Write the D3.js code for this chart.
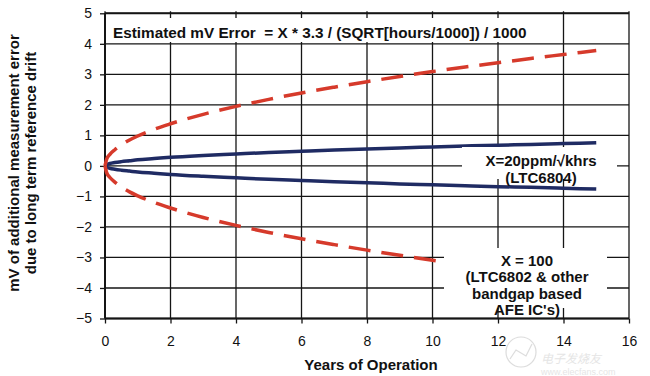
<!DOCTYPE html>
<html>
<head>
<meta charset="utf-8">
<script src="https://cdn.jsdelivr.net/npm/d3@7"></script>
<style>
  body { margin: 0; background: #fff; }
  svg { display: block; font-family: "Liberation Sans", Arial, sans-serif; }
  .tick text { font-size: 14px; fill: #111; }
  .lbl { font-weight: bold; font-size: 15px; fill: #111; }
</style>
</head>
<body>
<div id="chart"></div>
<script>
// years of operation sampled along the curves
const years = [0, 0.05, 0.15, 0.3, 0.5, 0.75, 1, 1.5, 2, 3, 4, 5, 6, 7, 8, 9, 10, 11, 12, 13, 14, 15];
// X = 100 (bandgap AFE), mV drift
const drift100 = [0, 0.22, 0.38, 0.53, 0.69, 0.85, 0.98, 1.2, 1.38, 1.69, 1.95, 2.18, 2.39, 2.58, 2.76, 2.93, 3.09, 3.24, 3.38, 3.52, 3.65, 3.78];
// X = 20ppm/sqrt(khrs) (LTC6804), blue solid curve
const drift20 = [0, 0.04, 0.08, 0.11, 0.14, 0.17, 0.2, 0.24, 0.28, 0.34, 0.39, 0.44, 0.48, 0.52, 0.55, 0.59, 0.62, 0.65, 0.68, 0.7, 0.73, 0.76];

const xTicks = [0, 2, 4, 6, 8, 10, 12, 14, 16];
const yTicks = [-5, -4, -3, -2, -1, 0, 1, 2, 3, 4, 5];

const width = 650;
const height = 376;

const svg = d3.select("#chart")
    .append("svg")
    .attr("width", width)
    .attr("height", height);

const x = d3.scaleLinear().domain([0, 16]).range([105, 629]);
const y = d3.scaleLinear().domain([-5, 5]).range([318.5, 13.3]);

// grid
const grid = svg.append("g").attr("stroke", "#151515").attr("stroke-width", 1.3);
grid.selectAll("line.h")
    .data(yTicks)
    .enter()
    .append("line")
    .attr("class", "h")
    .attr("x1", x(0)).attr("x2", x(16))
    .attr("y1", d => y(d)).attr("y2", d => y(d));
grid.selectAll("line.v")
    .data(xTicks)
    .enter()
    .append("line")
    .attr("class", "v")
    .attr("x1", d => x(d)).attr("x2", d => x(d))
    .attr("y1", y(5) - 2).attr("y2", y(-5));

// frame: left axis, top and bottom lines a bit heavier
const frame = svg.append("g").attr("stroke", "#151515").attr("stroke-width", 2);
frame.append("line").attr("x1", x(0)).attr("x2", x(0)).attr("y1", y(5)).attr("y2", y(-5));
frame.append("line").attr("x1", x(0)).attr("x2", x(16)).attr("y1", y(5)).attr("y2", y(5));
frame.append("line").attr("x1", x(0)).attr("x2", x(16)).attr("y1", y(-5)).attr("y2", y(-5));

// axes
const xAxis = svg.append("g")
    .attr("transform", `translate(0,${y(-5)})`)
    .call(d3.axisBottom(x).tickValues(xTicks).tickSize(5).tickPadding(13));
const yAxis = svg.append("g")
    .attr("transform", `translate(${x(0)},0)`)
    .call(d3.axisLeft(y).tickValues(yTicks).tickSize(5).tickPadding(8));
[xAxis, yAxis].forEach(a => {
    a.select(".domain").remove();
    a.selectAll(".tick line").attr("stroke", "#151515").attr("stroke-width", 1.3);
    a.attr("font-family", null).attr("font-size", null);
});

// curves
const line = d3.line()
    .x(d => x(d[0]))
    .y(d => y(d[1]))
    .curve(d3.curveMonotoneX);

function curve(values, sign) {
    return years.map((yr, i) => [yr, sign * values[i]]);
}

const curves = svg.append("g").attr("fill", "none").attr("stroke-linecap", "butt");
[1, -1].forEach(s => {
    curves.append("path")
        .attr("d", line(curve(drift20, s)))
        .attr("stroke", "#1f2b63")
        .attr("stroke-width", 3.5);
});
[1, -1].forEach(s => {
    curves.append("path")
        .attr("d", line(curve(drift100, s)))
        .attr("stroke", "#d63a2b")
        .attr("stroke-width", 3.5)
        .attr("stroke-dasharray", "22,11");
});

// annotation boxes (white, no border) covering the grid
const boxes = svg.append("g");
boxes.append("rect").attr("x", 106).attr("y", 18).attr("width", 428).attr("height", 24).attr("fill", "#fff");
boxes.append("rect").attr("x", 462).attr("y", 147).attr("width", 155).attr("height", 32).attr("fill", "#fff");
boxes.append("rect").attr("x", 444).attr("y", 248).attr("width", 163).attr("height", 60).attr("fill", "#fff");

svg.append("text")
    .attr("class", "lbl")
    .attr("x", 113).attr("y", 38)
    .style("font-size", "15.3px")
    .style("white-space", "pre")
    .text("Estimated mV Error  = X * 3.3 / (SQRT[hours/1000]) / 1000");

const note1 = ["X=20ppm/\u221Akhrs", "(LTC6804)"];
svg.append("g").selectAll("text")
    .data(note1)
    .enter()
    .append("text")
    .attr("class", "lbl")
    .attr("text-anchor", "middle")
    .attr("x", 541)
    .attr("y", (d, i) => 166 + i * 17)
    .text(d => d);

const note2 = ["X = 100", "(LTC6802 & other", "bandgap based", "AFE IC's)"];
svg.append("g").selectAll("text")
    .data(note2)
    .enter()
    .append("text")
    .attr("class", "lbl")
    .attr("text-anchor", "middle")
    .attr("x", 527)
    .attr("y", (d, i) => 266 + i * 16.4)
    .text(d => d);

// axis titles
svg.append("text")
    .attr("class", "lbl")
    .attr("text-anchor", "middle")
    .attr("x", 371).attr("y", 370)
    .text("Years of Operation");

const yTitle = ["mV of additional measurement error", "due to long term reference drift"];
svg.append("g").selectAll("text")
    .data(yTitle)
    .enter()
    .append("text")
    .attr("class", "lbl")
    .attr("text-anchor", "middle")
    .attr("transform", (d, i) => `translate(${18.5 + i * 17},163) rotate(-90)`)
    .text(d => d);

// faint site watermark bottom right, kept just below the tick labels
const wm = svg.append("g").attr("opacity", 0.5);
wm.append("circle").attr("cx", 521).attr("cy", 352).attr("r", 15)
    .attr("fill", "none").attr("stroke", "#bbb").attr("stroke-width", 1.2);
wm.append("path").attr("d", "M510,359 L516,350 L526,356 L532,344")
    .attr("fill", "none").attr("stroke", "#bbb").attr("stroke-width", 1.2);
wm.append("text").attr("x", 541).attr("y", 362.5)
    .attr("font-size", 12).attr("font-family", "Noto Sans CJK SC")
    .attr("fill", "#ccc").attr("font-style", "italic")
    .text("电子发烧友");
wm.append("text").attr("x", 541).attr("y", 375)
    .attr("font-size", 9).attr("fill", "#ccc")
    .text("www.elecfans.com");
</script>
</body>
</html>
